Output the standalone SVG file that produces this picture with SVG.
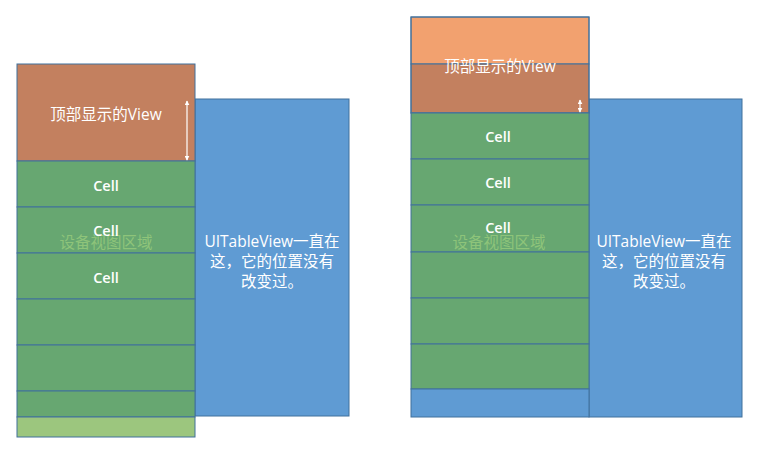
<svg xmlns="http://www.w3.org/2000/svg" width="761" height="455" viewBox="0 0 761 455">
<style>
.hdr{fill:#C3805F;stroke:#41719C;stroke-width:1}
.hdr2{fill:#F2A16F;stroke:#41719C;stroke-width:1}
.cell{fill:#67A771;stroke:#41719C;stroke-width:1}
.lg{fill:#9CC67E;stroke:#41719C;stroke-width:1}
.blue{fill:#5F9BD3;stroke:#41719C;stroke-width:1}
text{font-family:"Open Sans","Noto Sans CJK SC",sans-serif;fill:#fff;text-anchor:middle;dominant-baseline:central}
.t16{font-size:15.5px}
.cellt{font-size:14.5px;font-weight:600}
.dev{font-size:15.5px;fill:#8EC47A}
.arr{stroke:#fff;stroke-width:1.2;marker-start:url(#ah);marker-end:url(#ah)}
</style>
<defs>
<marker id="ah" viewBox="0 0 8 8" refX="7" refY="4" markerWidth="5" markerHeight="5" orient="auto-start-reverse" markerUnits="userSpaceOnUse">
<path d="M0,0 L8,4 L0,8 z" fill="#fff"/>
</marker>
</defs>
<!-- Left panel -->
<g id="left-tableview"><rect class="blue" x="195" y="99" width="154" height="317"/>
<text class="t16" x="272" y="241">UITableView一直在</text>
<text class="t16" x="272" y="261">这，它的位置没有</text>
<text class="t16" x="272" y="281">改变过。</text></g>
<g id="left-header"><rect class="hdr" x="17" y="64" width="178" height="97"/>
<text class="t16" x="106" y="114">顶部显示的View</text></g>
<g id="left-cells">
<rect class="cell" x="17" y="161" width="178" height="46"/>
<rect class="cell" x="17" y="207" width="178" height="46"/>
<rect class="cell" x="17" y="253" width="178" height="46"/>
<rect class="cell" x="17" y="299" width="178" height="46"/>
<rect class="cell" x="17" y="345" width="178" height="46"/>
<rect class="cell" x="17" y="391" width="178" height="26"/>
<rect class="lg" x="17" y="417" width="178" height="20"/>
<text class="dev" x="106" y="242">设备视图区域</text>
<text class="cellt" x="106" y="185">Cell</text>
<text class="cellt" x="106" y="230">Cell</text>
<text class="cellt" x="106" y="277">Cell</text>
</g>
<!-- Right panel -->
<g id="right-tableview"><rect class="blue" x="589" y="99" width="153" height="318"/>
<text class="t16" x="664" y="241">UITableView一直在</text>
<text class="t16" x="664" y="261">这，它的位置没有</text>
<text class="t16" x="664" y="281">改变过。</text></g>
<g id="right-header">
<rect class="hdr2" x="411" y="17" width="178" height="47"/>
<rect class="hdr" x="411" y="64" width="178" height="49"/>
<rect x="411" y="17" width="178" height="96" fill="none" stroke="#41719C"/>
<text class="t16" x="500" y="66">顶部显示的View</text></g>
<g id="right-cells">
<rect class="cell" x="411" y="113" width="178" height="46"/>
<rect class="cell" x="411" y="159" width="178" height="46"/>
<rect class="cell" x="411" y="205" width="178" height="47"/>
<rect class="cell" x="411" y="252" width="178" height="46"/>
<rect class="cell" x="411" y="298" width="178" height="46"/>
<rect class="cell" x="411" y="344" width="178" height="45"/>
<rect class="blue" x="411" y="389" width="178" height="28"/>
<text class="dev" x="499" y="242">设备视图区域</text>
<text class="cellt" x="498" y="136">Cell</text>
<text class="cellt" x="498" y="182">Cell</text>
<text class="cellt" x="498" y="227">Cell</text>
</g>
<g id="connectors">
<line class="arr" x1="187" y1="101" x2="187" y2="160"/>
<line class="arr" x1="580" y1="100" x2="580" y2="112"/>
</g>
</svg>
